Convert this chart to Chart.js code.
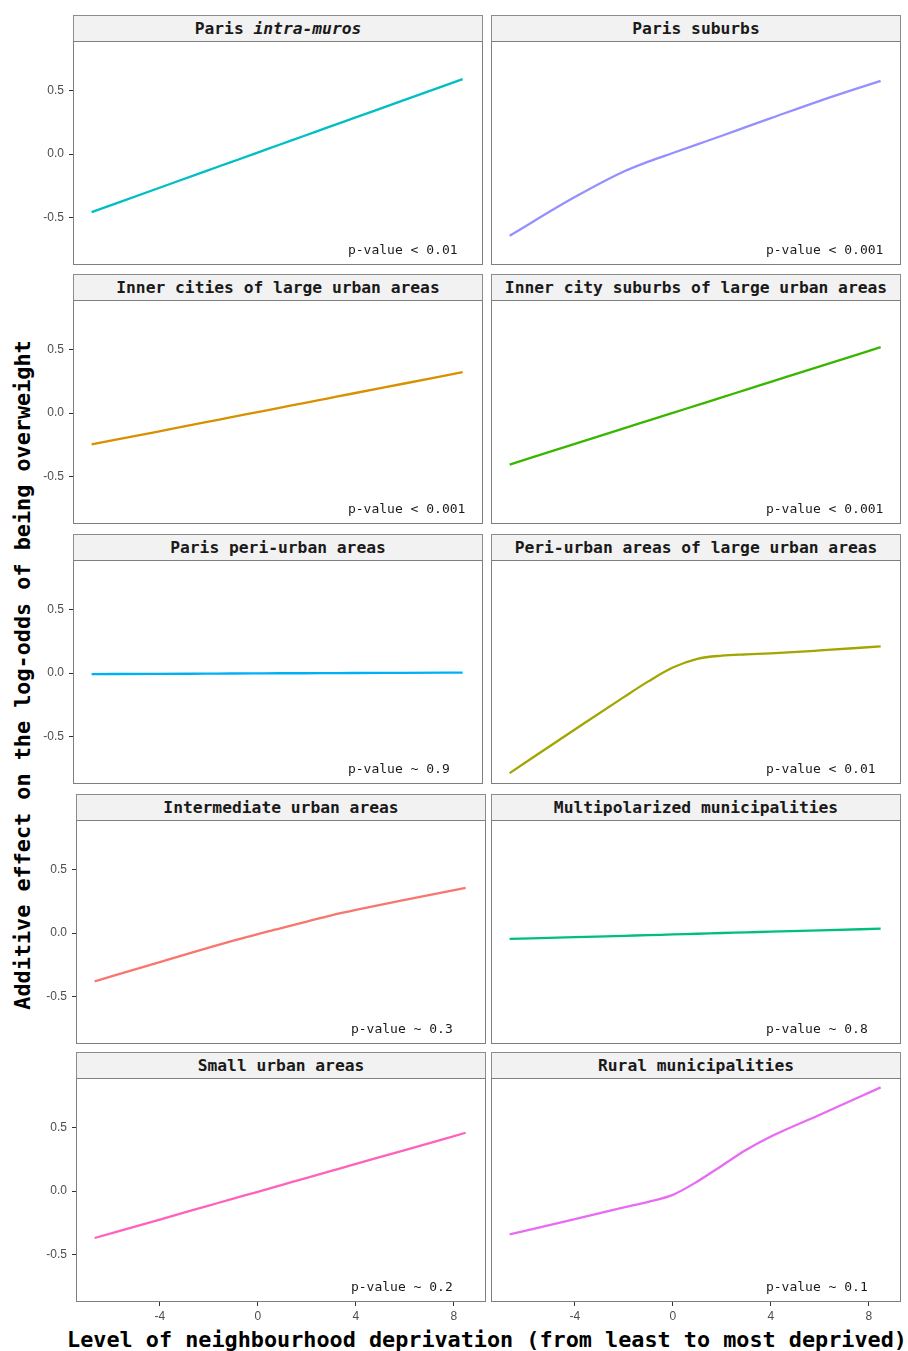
<!DOCTYPE html>
<html>
<head>
<meta charset="utf-8">
<script src="https://cdn.jsdelivr.net/npm/chart.js@4.4.1/dist/chart.umd.min.js"></script>
<style>
    body { margin: 0; background: #fff; }
    #page { position: relative; width: 908px; height: 1351px; overflow: hidden; }
    .strip {
        position: absolute; box-sizing: border-box; height: 27px;
        background: #f2f2f2; border: 1px solid #8c8c8c; border-bottom: 1.5px solid #4d4d4d;
        font: bold 16.3px 'DejaVu Sans Mono', monospace; color: #1a1a1a;
        text-align: center; line-height: 25px; white-space: nowrap;
    }
    .panel { position: absolute; line-height: 0; }
    .panel canvas { display: block; }
    .axis-title { position: absolute; font: bold 21.8px 'DejaVu Sans Mono', monospace; color: #000; white-space: nowrap; }
</style>
</head>
<body>
<div id="page">
    <div class="axis-title" id="yTitle">Additive effect on the log-odds of being overweight</div>
    <div class="axis-title" id="xTitle">Level of neighbourhood deprivation (from least to most deprived)</div>
</div>
<script>
// Data
const xGrid = [-6.66, -4, -2, -1, 0, 1, 2, 3, 4, 6, 8.48];

const parisIntraMuros   = [-0.459, -0.274, -0.135, -0.066, 0.003, 0.073, 0.142, 0.212, 0.281, 0.419, 0.591];
const parisSuburbs      = [-0.645, -0.340, -0.138, -0.060, 0.008, 0.076, 0.144, 0.214, 0.283, 0.420, 0.578];
const innerCities       = [-0.248, -0.148, -0.072, -0.035, 0.003, 0.041, 0.078, 0.116, 0.154, 0.229, 0.322];
const innerCitySuburbs  = [-0.407, -0.244, -0.121, -0.060, 0.001, 0.062, 0.123, 0.185, 0.246, 0.368, 0.520];
const parisPeriUrban    = [-0.008, -0.007, -0.005, -0.004, -0.003, -0.002, -0.002, -0.001, 0.000, 0.001, 0.003];
const periUrbanLarge    = [-0.790, -0.446, -0.190, -0.066, 0.043, 0.112, 0.137, 0.147, 0.155, 0.178, 0.210];
const intermediateUrban = [-0.381, -0.230, -0.115, -0.060, -0.008, 0.040, 0.090, 0.140, 0.183, 0.262, 0.356];
const multipolarized    = [-0.047, -0.033, -0.022, -0.017, -0.011, -0.006, 0.000, 0.005, 0.011, 0.021, 0.034];
const smallUrban        = [-0.371, -0.225, -0.115, -0.060, -0.006, 0.049, 0.104, 0.159, 0.214, 0.323, 0.460];
const rural             = [-0.342, -0.222, -0.130, -0.085, -0.030, 0.075, 0.200, 0.325, 0.430, 0.602, 0.818];

const panelTitles = [
    'Paris <i>intra-muros</i>', 'Paris suburbs',
    'Inner cities of large urban areas', 'Inner city suburbs of large urban areas',
    'Paris peri-urban areas', 'Peri-urban areas of large urban areas',
    'Intermediate urban areas', 'Multipolarized municipalities',
    'Small urban areas', 'Rural municipalities'
];
const panelSeries = [parisIntraMuros, parisSuburbs, innerCities, innerCitySuburbs, parisPeriUrban,
    periUrbanLarge, intermediateUrban, multipolarized, smallUrban, rural];
const panelColors = ['#00BFC4', '#9590FF', '#D89000', '#39B600', '#00B0F6',
    '#A3A500', '#F8766D', '#00BF7D', '#FF62BC', '#E76BF3'];
const pValues = ['p-value < 0.01', 'p-value < 0.001', 'p-value < 0.001', 'p-value < 0.001', 'p-value ~ 0.9',
    'p-value < 0.01', 'p-value ~ 0.3', 'p-value ~ 0.8', 'p-value ~ 0.2', 'p-value ~ 0.1'];

const xTicks = [-4, 0, 4, 8];
const yTicks = [-0.5, 0, 0.5];
const yTickLabels = ['-0.5', '0.0', '0.5'];

// Layout
const X_MIN = -7.42, X_MAX = 9.31;
const Y_MIN = -0.876, Y_MAX = 0.892;
const rowTops = [15, 274, 534, 794, 1052];
const leftColX = [73, 73, 73, 76, 76];
const rightColX = 491;
const PANEL_W = 410, STRIP_H = 26, PLOT_H = 224;
const Y_AXIS_W = 44, X_AXIS_H = 26;

const page = document.getElementById('page');

// Panel border + p-value label
const panelDecor = {
    id: 'panelDecor',
    afterDatasetsDraw(chart) {
        const { ctx, chartArea, scales } = chart;
        ctx.save();
        ctx.strokeStyle = '#7f7f7f';
        ctx.lineWidth = 1;
        ctx.strokeRect(chartArea.left + 0.5, chartArea.top + 0.5, chartArea.width - 1, chartArea.height - 1);
        ctx.fillStyle = '#1a1a1a';
        ctx.font = '13px "DejaVu Sans Mono", monospace';
        ctx.textAlign = 'left';
        ctx.textBaseline = 'middle';
        ctx.fillText(chart.options.plugins.panelDecor.label,
            scales.x.getPixelForValue(3.8), scales.y.getPixelForValue(-0.765));
        ctx.restore();
    }
};

function makePanel(i) {
    const row = Math.floor(i / 2);
    const isLeft = i % 2 === 0;
    const isBottom = row === rowTops.length - 1;
    const plotX = isLeft ? leftColX[row] : rightColX;
    const top = rowTops[row];

    const strip = document.createElement('div');
    strip.className = 'strip';
    strip.style.left = plotX + 'px';
    strip.style.top = top + 'px';
    strip.style.width = PANEL_W + 'px';
    strip.innerHTML = panelTitles[i];
    page.appendChild(strip);

    const w = PANEL_W + (isLeft ? Y_AXIS_W : 0);
    const h = PLOT_H + (isBottom ? X_AXIS_H : 0);
    const box = document.createElement('div');
    box.className = 'panel';
    box.style.left = (plotX - (isLeft ? Y_AXIS_W : 0)) + 'px';
    box.style.top = (top + STRIP_H) + 'px';
    const canvas = document.createElement('canvas');
    canvas.width = w;
    canvas.height = h;
    box.appendChild(canvas);
    page.appendChild(box);

    new Chart(canvas.getContext('2d'), {
        type: 'line',
        data: {
            datasets: [{
                data: xGrid.map((x, k) => ({ x: x, y: panelSeries[i][k] })),
                borderColor: panelColors[i],
                borderWidth: 2.3,
                pointRadius: 0,
                cubicInterpolationMode: 'monotone',
                fill: false
            }]
        },
        options: {
            responsive: false,
            animation: false,
            devicePixelRatio: 1,
            layout: { padding: 0 },
            plugins: {
                legend: { display: false },
                tooltip: { enabled: false },
                panelDecor: { label: pValues[i] }
            },
            scales: {
                x: {
                    type: 'linear',
                    min: X_MIN,
                    max: X_MAX,
                    display: isBottom,
                    afterBuildTicks: s => { s.ticks = xTicks.map(v => ({ value: v })); },
                    afterFit: s => {
                        s.height = isBottom ? X_AXIS_H : 0;
                        s.paddingLeft = 0;
                        s.paddingRight = 0;
                    },
                    grid: { drawOnChartArea: false, drawTicks: true, tickLength: 4, color: '#333' },
                    border: { display: false },
                    ticks: {
                        color: '#4d4d4d',
                        font: { family: 'Liberation Sans', size: 12 },
                        padding: 3,
                        maxRotation: 0,
                        callback: v => String(v)
                    }
                },
                y: {
                    type: 'linear',
                    min: Y_MIN,
                    max: Y_MAX,
                    display: isLeft,
                    afterBuildTicks: s => { s.ticks = yTicks.map(v => ({ value: v })); },
                    afterFit: s => {
                        s.width = isLeft ? Y_AXIS_W : 0;
                        s.paddingTop = 0;
                        s.paddingBottom = 0;
                    },
                    grid: { drawOnChartArea: false, drawTicks: true, tickLength: 4, color: '#333' },
                    border: { display: false },
                    ticks: {
                        color: '#4d4d4d',
                        font: { family: 'Liberation Sans', size: 12 },
                        padding: 5,
                        callback: v => yTickLabels[yTicks.indexOf(v)]
                    }
                }
            }
        },
        plugins: [panelDecor]
    });
}

for (let i = 0; i < panelTitles.length; i++) makePanel(i);

// Axis titles
const yTitle = document.getElementById('yTitle');
yTitle.style.left = '22px';
yTitle.style.top = '675px';
yTitle.style.transform = 'translate(-50%, -50%) rotate(-90deg)';
const xTitle = document.getElementById('xTitle');
xTitle.style.left = '487px';
xTitle.style.top = '1339px';
xTitle.style.transform = 'translate(-50%, -50%)';
</script>
</body>
</html>
